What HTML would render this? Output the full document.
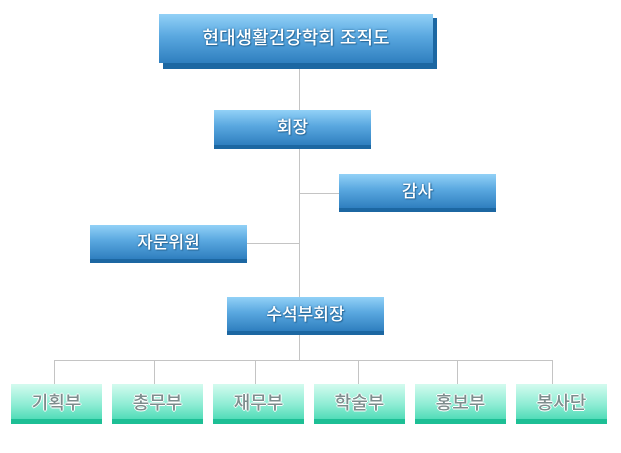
<!DOCTYPE html>
<html><head><meta charset="utf-8"><style>
html,body{margin:0;padding:0;background:#fff;width:621px;height:453px;overflow:hidden;position:relative;font-family:"Liberation Sans","Noto Sans CJK KR","NanumGothic",sans-serif;}
.b{position:absolute;box-sizing:border-box;background:linear-gradient(#92d1f7,#5aa8e0 45%,#2f7fbf);border-bottom:4px solid #1c67a2;color:#fff;text-align:center;font-size:17px;font-weight:500;text-shadow:0 0 2px #2a6a9a,1px 1px 1px #2a6a9a;}
.g{position:absolute;box-sizing:border-box;background:linear-gradient(#d4fbef,#8cecd3 60%,#52dcb8);border-bottom:5px solid #1dbf95;color:#7d8d8d;text-align:center;font-size:18px;font-weight:500;top:384px;height:40px;width:91px;line-height:38px;text-shadow:1px 0 0 #fff,-1px 0 0 #fff,0 1px 0 #fff,0 -1px 0 #fff;}
.l{position:absolute;background:#c4c4c4;}
</style></head><body>
<div class="l" style="left:299px;top:63px;width:1px;height:297px"></div>
<div class="l" style="left:299px;top:193px;width:40px;height:1px"></div>
<div class="l" style="left:247px;top:243px;width:52px;height:1px"></div>
<div class="l" style="left:54px;top:360px;width:499px;height:1px"></div>
<div class="l" style="left:54px;top:360px;width:1px;height:24px"></div>
<div class="l" style="left:154px;top:360px;width:1px;height:24px"></div>
<div class="l" style="left:255px;top:360px;width:1px;height:24px"></div>
<div class="l" style="left:358px;top:360px;width:1px;height:24px"></div>
<div class="l" style="left:457px;top:360px;width:1px;height:24px"></div>
<div class="l" style="left:552px;top:360px;width:1px;height:24px"></div>
<div style="position:absolute;left:163px;top:18px;width:274px;height:51px;background:#1c67a2"></div>
<div class="b" style="left:159px;top:14px;width:274px;height:49px;border-bottom:none;line-height:49px;font-size:18px">현대생활건강학회 조직도</div>
<div class="b" style="left:214px;top:110px;width:157px;height:39px;line-height:36px">회장</div>
<div class="b" style="left:339px;top:174px;width:157px;height:38px;line-height:35px">감사</div>
<div class="b" style="left:90px;top:225px;width:157px;height:38px;line-height:35px">자문위원</div>
<div class="b" style="left:227px;top:297px;width:157px;height:38px;line-height:35px">수석부회장</div>
<div class="g" style="left:11px">기획부</div>
<div class="g" style="left:112px">총무부</div>
<div class="g" style="left:213px">재무부</div>
<div class="g" style="left:314px">학술부</div>
<div class="g" style="left:415px">홍보부</div>
<div class="g" style="left:516px">봉사단</div>
</body></html>
